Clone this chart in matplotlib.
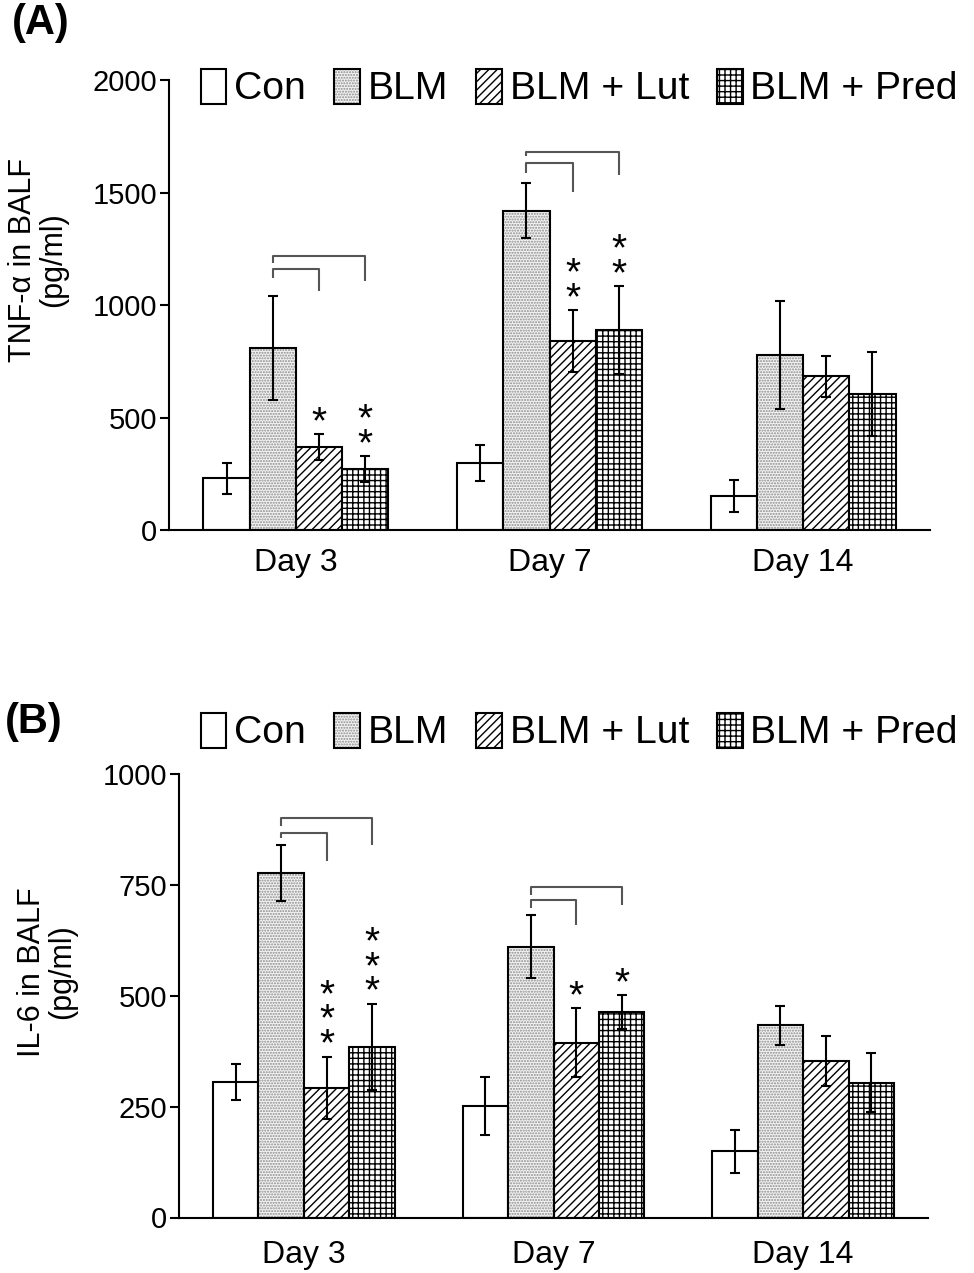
import numpy as np
import matplotlib
matplotlib.use('Agg')
import matplotlib.pyplot as plt
from matplotlib.patches import Patch

plt.rcParams['font.family'] = ['Liberation Sans', 'DejaVu Sans']
plt.rcParams['hatch.linewidth'] = 1.0

days = ['Day 3', 'Day 7', 'Day 14']
groups = ['Con', 'BLM', 'BLM + Lut', 'BLM + Pred']

# TNF-alpha (pg/ml), one list per group, values per day
tnf_con = [230, 300, 150]
tnf_blm = [810, 1420, 780]
tnf_lut = [368, 840, 683]
tnf_pred = [270, 890, 603]
tnf_con_err = [68, 80, 72]
tnf_blm_err = [230, 124, 240]
tnf_lut_err = [58, 138, 92]
tnf_pred_err = [57, 195, 186]
tnf_stars = [[0, 0, 1, 2], [0, 0, 2, 2], [0, 0, 0, 0]]
tnf_br_group = [0, 0, 1, 1]
tnf_br_to = [3, 2, 3, 2]
tnf_br_top = [1218, 1160, 1680, 1631]
tnf_br_left = [1187, 1120, 1662, 1587]
tnf_br_right = [1107, 1062, 1578, 1502]

# IL-6 (pg/ml)
il6_con = [305, 252, 149]
il6_blm = [777, 611, 434]
il6_lut = [293, 394, 353]
il6_pred = [385, 463, 304]
il6_con_err = [40, 65, 48]
il6_blm_err = [63, 70, 44]
il6_lut_err = [70, 78, 56]
il6_pred_err = [97, 38, 66]
il6_stars = [[0, 0, 3, 3], [0, 0, 1, 1], [0, 0, 0, 0]]
il6_br_group = [0, 0, 1, 1]
il6_br_to = [3, 2, 3, 2]
il6_br_top = [901, 867, 745, 716]
il6_br_left = [883, 856, 727, 698]
il6_br_right = [840, 804, 705, 660]

W = 0.182
BLM_FACE = '#f3f3f3'
BLM_DOT = '#8c8c8c'
BR_COLOR = '#555555'


def draw_panel(ax, means, errs, stars, br, ymax, yticks, xpad):
    x = np.arange(len(days))
    for i, (vals, err) in enumerate(zip(means, errs)):
        pos = x + (i - 1.5) * W
        if i == 0:
            ax.bar(pos, vals, W, color='white', edgecolor='k', lw=1.5, zorder=2)
        elif i == 1:
            ax.bar(pos, vals, W, color=BLM_FACE, hatch='......', edgecolor=BLM_DOT, lw=0, zorder=2)
            ax.bar(pos, vals, W, fill=False, edgecolor='k', lw=1.5, zorder=3)
        elif i == 2:
            ax.bar(pos, vals, W, color='white', hatch='////', edgecolor='k', lw=1.5, zorder=2)
        else:
            ax.bar(pos, vals, W, color='white', hatch='+++', edgecolor='k', lw=1.5, zorder=2)
        ax.errorbar(pos, vals, yerr=err, fmt='none', ecolor='k', elinewidth=1.5,
                    capsize=3.5, capthick=1.5, zorder=4)
        for d in range(len(days)):
            n = stars[d][i]
            if n:
                ax.annotate('\n'.join(['*'] * n), xy=(pos[d], vals[d] + err[d]),
                            xytext=(0, -5), textcoords='offset points',
                            ha='center', va='bottom', fontsize=28, linespacing=0.6)

    grp, to, top, lb, rb = br
    for g, t, yt, yl, yr in zip(grp, to, top, lb, rb):
        x1 = g + (1 - 1.5) * W
        x2 = g + (t - 1.5) * W
        ax.plot([x1, x1, x2, x2], [yl, yt, yt, yr], color=BR_COLOR, lw=1.5,
                solid_capstyle='butt', zorder=5)

    ax.set_xlim(-0.5, 2.5)
    ax.set_ylim(0, ymax)
    ax.set_yticks(yticks)
    ax.set_xticks(x)
    ax.set_xticklabels(days, fontsize=23)
    ax.tick_params(axis='x', length=0, pad=xpad)
    ax.tick_params(axis='y', labelsize=21, length=6.5, width=1.5, pad=2)
    for s in ['top', 'right']:
        ax.spines[s].set_visible(False)
    for s in ['left', 'bottom']:
        ax.spines[s].set_linewidth(1.5)


def legend_handles():
    return [
        Patch(facecolor='white', edgecolor='k', lw=1.5),
        (Patch(facecolor=BLM_FACE, hatch='......', edgecolor=BLM_DOT, lw=0),
         Patch(fill=False, edgecolor='k', lw=1.5)),
        Patch(facecolor='white', hatch='////', edgecolor='k', lw=1.5),
        Patch(facecolor='white', hatch='+++', edgecolor='k', lw=1.5),
    ]


fig = plt.figure(figsize=(9.74, 12.73), dpi=100)
FW, FH = 974.0, 1273.0

ax1 = fig.add_axes([169 / FW, 1 - 530 / FH, 761 / FW, 450 / FH])
draw_panel(ax1,
           [tnf_con, tnf_blm, tnf_lut, tnf_pred],
           [tnf_con_err, tnf_blm_err, tnf_lut_err, tnf_pred_err],
           tnf_stars,
           (tnf_br_group, tnf_br_to, tnf_br_top, tnf_br_left, tnf_br_right),
           2000, [0, 500, 1000, 1500, 2000], 13)

ax2 = fig.add_axes([179 / FW, 1 - 1217.5 / FH, 749 / FW, 443.5 / FH])
draw_panel(ax2,
           [il6_con, il6_blm, il6_lut, il6_pred],
           [il6_con_err, il6_blm_err, il6_lut_err, il6_pred_err],
           il6_stars,
           (il6_br_group, il6_br_to, il6_br_top, il6_br_left, il6_br_right),
           1000, [0, 250, 500, 750, 1000], 16)

for ycen in [88, 732]:
    fig.legend(legend_handles(), groups, ncol=4, loc='center left',
               bbox_to_anchor=(201 / FW, 1 - ycen / FH), frameon=False, fontsize=28.2,
               handlelength=0.65, handleheight=1.0, handletextpad=0.2,
               columnspacing=0.72, borderpad=0, borderaxespad=0)

fig.text(38 / FW, 1 - 260 / FH, 'TNF-\u03b1 in BALF\n(pg/ml)', rotation=90,
         ha='center', va='center', fontsize=22, linespacing=1.0, multialignment='center')
fig.text(47 / FW, 1 - 972 / FH, 'IL-6 in BALF\n(pg/ml)', rotation=90,
         ha='center', va='center', fontsize=22, linespacing=1.0, multialignment='center')

fig.text(41 / FW, 1 - 23 / FH, '(A)', ha='center', va='center', fontsize=30, fontweight='bold')
fig.text(34 / FW, 1 - 722 / FH, '(B)', ha='center', va='center', fontsize=30, fontweight='bold')

fig.savefig('out.png', dpi=100)
